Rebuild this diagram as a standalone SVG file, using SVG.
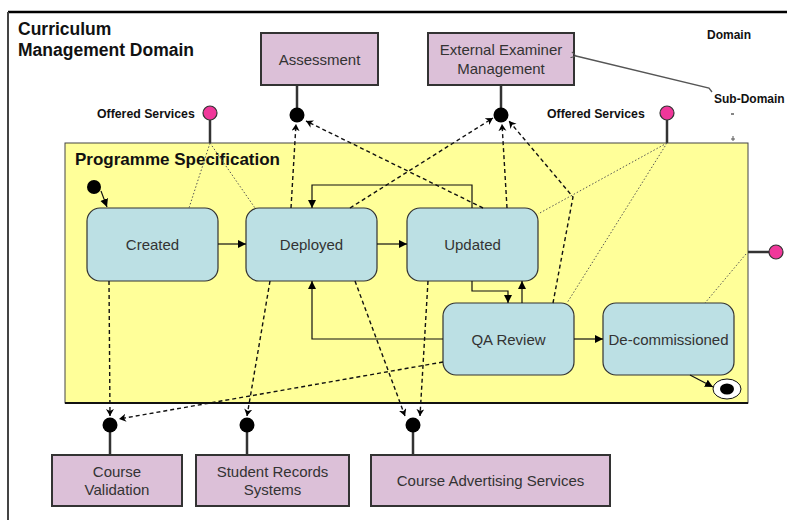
<svg xmlns="http://www.w3.org/2000/svg" width="787" height="521" viewBox="0 0 787 521">
<style>
.lbl{font-family:"Liberation Sans",Arial,sans-serif;font-size:15px;fill:#333;text-anchor:middle}
.bold{font-family:"Liberation Sans",Arial,sans-serif;font-weight:bold;fill:#111}
.sys{fill:#dcc0d8;stroke:#333;stroke-width:2}
.state{fill:#bce0e4;stroke:#333;stroke-width:1.2}
.pink{fill:#f0379a;stroke:#333;stroke-width:1.2}
.ball{fill:#000}
.stem{stroke:#333;stroke-width:2.5;fill:none}
.tr{stroke:#111;stroke-width:1.2;fill:none;marker-end:url(#tri)}
.dep{stroke:#111;stroke-width:1.4;fill:none;stroke-dasharray:4 3;marker-end:url(#dar)}
.dot{stroke:#555;stroke-width:1;fill:none;stroke-dasharray:1.5 2}
</style>
<defs>
<marker id="tri" markerUnits="userSpaceOnUse" markerWidth="9" markerHeight="9" refX="8" refY="4" orient="auto"><path d="M0,0 L8,4 L0,8 z" fill="#000"/></marker>
<marker id="dar" markerUnits="userSpaceOnUse" markerWidth="9" markerHeight="9" refX="7" refY="4" orient="auto"><path d="M0,0 L7,4 L0,8 L2,4 z" fill="#000"/></marker>
<marker id="oar" markerUnits="userSpaceOnUse" markerWidth="8" markerHeight="8" refX="1" refY="3" orient="auto"><path d="M6,0 L1,3 L6,6" fill="none" stroke="#555" stroke-width="1"/></marker>
</defs>
<rect width="787" height="521" fill="#fff"/>

<g id="domain">
<line x1="8" y1="12" x2="787" y2="12" stroke="#000" stroke-width="2.5"/>
<line x1="8" y1="12" x2="8" y2="520" stroke="#444" stroke-width="2"/>
<text class="bold" x="18" y="35" font-size="17.5">Curriculum</text>
<text class="bold" x="18" y="56" font-size="17.5">Management Domain</text>
<text class="bold" x="707" y="39" font-size="12">Domain</text>
<text class="bold" x="714" y="103" font-size="12">Sub-Domain</text>
<line x1="731" y1="114" x2="734" y2="114" stroke="#333" stroke-width="1.2"/>
<path d="M733,136 v5 M731,139 h4" stroke="#555" stroke-width="1"/>
</g>

<g id="programme-specification">
<rect x="65" y="143" width="683" height="260" fill="#ffff99" stroke="#444" stroke-width="1"/>
<line x1="65" y1="403" x2="748" y2="403" stroke="#111" stroke-width="2"/>
<text class="bold" x="75" y="165" font-size="17">Programme Specification</text>
</g>

<g id="assessment">
<rect class="sys" x="261" y="33" width="117" height="52"/>
<text class="lbl" x="319.5" y="65">Assessment</text>
</g>
<g id="external-examiner">
<rect class="sys" x="428" y="33" width="146" height="52"/>
<text class="lbl" x="501" y="55">External Examiner</text>
<text class="lbl" x="501" y="74">Management</text>
</g>
<g id="course-validation">
<rect class="sys" x="52" y="455" width="130" height="51"/>
<text class="lbl" x="117" y="477">Course</text>
<text class="lbl" x="117" y="495">Validation</text>
</g>
<g id="student-records">
<rect class="sys" x="196" y="455" width="153" height="51"/>
<text class="lbl" x="272.5" y="477">Student Records</text>
<text class="lbl" x="272.5" y="495">Systems</text>
</g>
<g id="course-advertising">
<rect class="sys" x="371" y="455" width="239" height="51"/>
<text class="lbl" x="490.5" y="486">Course Advertising Services</text>
</g>

<g id="offered-services-left">
<line class="stem" x1="210" y1="120" x2="210" y2="143"/>
<circle class="pink" cx="210" cy="113" r="7"/>
<text class="bold" x="97" y="118" font-size="12.3">Offered Services</text>
</g>
<g id="offered-services-right">
<line class="stem" x1="667" y1="120" x2="667" y2="143"/>
<circle class="pink" cx="667" cy="113" r="7"/>
<text class="bold" x="547" y="118" font-size="12.3">Offered Services</text>
</g>
<g id="offered-services-side">
<line class="stem" x1="748" y1="252" x2="769" y2="252"/>
<circle class="pink" cx="776" cy="252" r="7"/>
</g>

<g id="required-assessment">
<line class="stem" x1="297" y1="85" x2="297" y2="112"/>
<circle class="ball" cx="297" cy="115" r="7.5"/>
</g>
<g id="required-external">
<line class="stem" x1="501" y1="85" x2="501" y2="112"/>
<circle class="ball" cx="501" cy="115" r="7.5"/>
</g>
<g id="required-validation">
<line class="stem" x1="110" y1="428" x2="110" y2="455"/>
<circle class="ball" cx="110" cy="425" r="7.5"/>
</g>
<g id="required-records">
<line class="stem" x1="247" y1="428" x2="247" y2="455"/>
<circle class="ball" cx="247" cy="425" r="7.5"/>
</g>
<g id="required-advertising">
<line class="stem" x1="413" y1="428" x2="413" y2="455"/>
<circle class="ball" cx="413" cy="425" r="7.5"/>
</g>

<g id="initial">
<circle cx="94" cy="187" r="7" fill="#000"/>
</g>
<g id="created">
<rect class="state" x="87" y="208" width="131" height="73" rx="13"/>
<text class="lbl" x="152.5" y="250">Created</text>
</g>
<g id="deployed">
<rect class="state" x="246" y="208" width="131" height="73" rx="13"/>
<text class="lbl" x="311.5" y="250">Deployed</text>
</g>
<g id="updated">
<rect class="state" x="407" y="208" width="131" height="73" rx="13"/>
<text class="lbl" x="472.5" y="250">Updated</text>
</g>
<g id="qa-review">
<rect class="state" x="443" y="303" width="131" height="72" rx="13"/>
<text class="lbl" x="508.5" y="345">QA Review</text>
</g>
<g id="decommissioned">
<rect class="state" x="603" y="303" width="131" height="72" rx="13"/>
<text class="lbl" x="668.5" y="345">De-commissioned</text>
</g>
<g id="final">
<ellipse cx="727" cy="389" rx="14" ry="10" fill="#fff" stroke="#111" stroke-width="1"/>
<ellipse cx="727" cy="389" rx="7" ry="5.5" fill="#000"/>
</g>

<g id="connectors">
<!-- state transitions -->
<path class="tr" d="M101,191 L107,207"/>
<path class="tr" d="M218,244 L246,244"/>
<path class="tr" d="M377,244 L407,244"/>
<path class="tr" d="M472,208 V185 H312 V208"/>
<path class="tr" d="M472,281 V291 H508 V303"/>
<path class="tr" d="M522,303 V281"/>
<path class="tr" d="M443,339 H312 V281"/>
<path class="tr" d="M574,339 H603"/>
<path class="tr" d="M690,375 L713,387"/>
<!-- sub-domain pointer -->
<path d="M712,92 L709,88 L576,56" fill="none" stroke="#555" stroke-width="1.3" marker-end="url(#oar)"/>
<!-- required dependencies -->
<path class="dep" d="M291,208 L296,124"/>
<path class="dep" d="M483,208 L306,121"/>
<path class="dep" d="M350,208 L493,118"/>
<path class="dep" d="M507,208 L502,124"/>
<path class="dep" d="M553,303 L573,197 L509,121"/>
<path class="dep" d="M109,281 L110,416"/>
<path class="dep" d="M443,362 L119,419"/>
<path class="dep" d="M270,281 L247,416"/>
<path class="dep" d="M355,281 L405,416"/>
<path class="dep" d="M428,281 L420,416"/>
<!-- offered services -->
<path class="dot" d="M210,143 L189,208"/>
<path class="dot" d="M210,143 L255,208"/>
<path class="dot" d="M667,143 L538,214"/>
<path class="dot" d="M667,143 L567,303"/>
<path class="dot" d="M746,254 L705,303"/>
</g>
</svg>
